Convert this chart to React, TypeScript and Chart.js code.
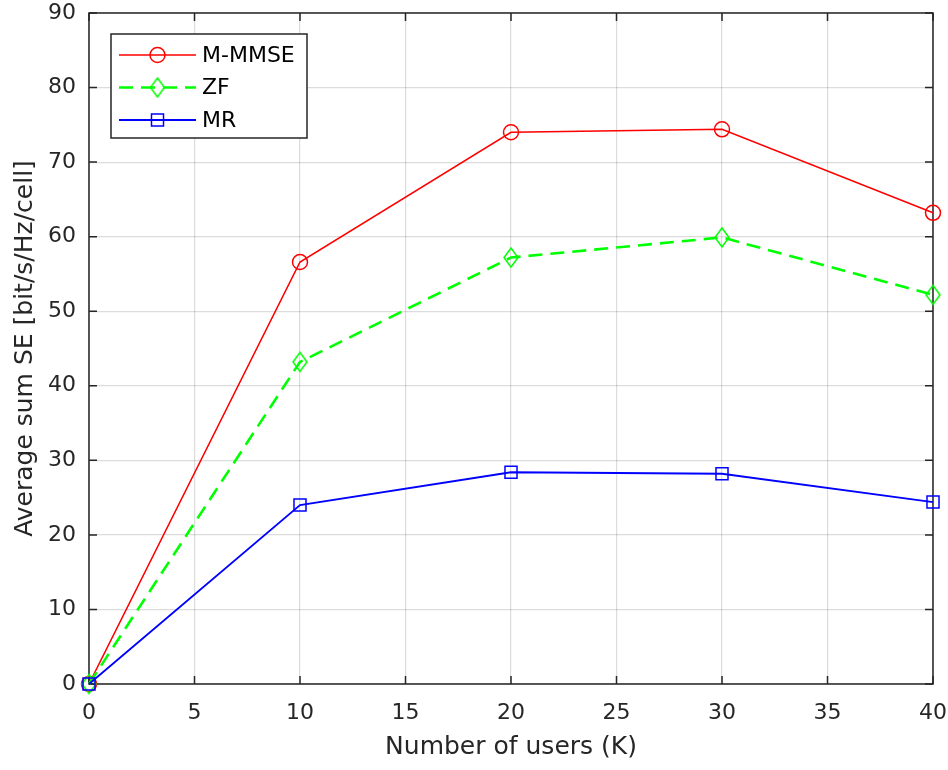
import React, { useEffect, useRef } from 'react';
import { Chart, registerables } from 'chart.js';

Chart.register(...registerables);

// Number of users K
const users = [0, 10, 20, 30, 40];
// Average sum SE [bit/s/Hz/cell] per combiner
const mmmseSE = [0, 56.6, 74.0, 74.4, 63.2];
const zfSE = [0, 43.2, 57.2, 59.9, 52.2];
const mrSE = [0, 24.0, 28.4, 28.2, 24.4];

const seriesNames = ['M-MMSE', 'ZF', 'MR'];
const xTitle = 'Number of users (K)';
const yTitle = 'Average sum SE [bit/s/Hz/cell]';

const AXIS_COLOR = '#262626';
const GRID_COLOR = 'rgba(38,38,38,0.16)';
const FONT = 'DejaVu Sans';
const ZF_DASH = [14, 8];

function makeDiamond(w: number, h: number, color: string, lw: number): HTMLCanvasElement {
  const c = document.createElement('canvas');
  c.width = w + 4;
  c.height = h + 4;
  const ctx = c.getContext('2d')!;
  const cx = c.width / 2;
  const cy = c.height / 2;
  ctx.strokeStyle = color;
  ctx.lineWidth = lw;
  ctx.beginPath();
  ctx.moveTo(cx, cy - h / 2);
  ctx.lineTo(cx + w / 2, cy);
  ctx.lineTo(cx, cy + h / 2);
  ctx.lineTo(cx - w / 2, cy);
  ctx.closePath();
  ctx.stroke();
  return c;
}

// Axes box with inward tick marks on all four sides
const boxPlugin = {
  id: 'axesBox',
  beforeDatasetsDraw(chart: any) {
    const { ctx, chartArea: a, scales } = chart;
    const len = 8;
    ctx.save();
    ctx.strokeStyle = AXIS_COLOR;
    ctx.lineWidth = 1.5;
    ctx.strokeRect(a.left, a.top, a.right - a.left, a.bottom - a.top);
    ctx.beginPath();
    scales.x.ticks.forEach((t: any) => {
      const px = scales.x.getPixelForValue(t.value);
      ctx.moveTo(px, a.bottom);
      ctx.lineTo(px, a.bottom - len);
      ctx.moveTo(px, a.top);
      ctx.lineTo(px, a.top + len);
    });
    scales.y.ticks.forEach((t: any) => {
      const py = scales.y.getPixelForValue(t.value);
      ctx.moveTo(a.left, py);
      ctx.lineTo(a.left + len, py);
      ctx.moveTo(a.right, py);
      ctx.lineTo(a.right - len, py);
    });
    ctx.stroke();
    ctx.restore();
  },
};

// Legend box in the upper-left corner of the axes
const legendPlugin = {
  id: 'boxLegend',
  afterDraw(chart: any) {
    const { ctx, chartArea: a } = chart;
    const x0 = a.left + 22;
    const y0 = a.top + 21;
    const w = 196;
    const h = 104;
    ctx.save();
    ctx.fillStyle = '#ffffff';
    ctx.fillRect(x0, y0, w, h);
    ctx.strokeStyle = AXIS_COLOR;
    ctx.lineWidth = 1.5;
    ctx.strokeRect(x0, y0, w, h);
    chart.data.datasets.forEach((ds: any, i: number) => {
      const cy = y0 + 21 + i * 32.5;
      const lx0 = x0 + 8;
      const lx1 = x0 + 85;
      const mx = (lx0 + lx1) / 2;
      ctx.strokeStyle = ds.borderColor;
      ctx.lineWidth = ds.borderWidth;
      ctx.setLineDash(ds.borderDash || []);
      ctx.beginPath();
      ctx.moveTo(lx0, cy);
      ctx.lineTo(lx1, cy);
      ctx.stroke();
      ctx.setLineDash([]);
      ctx.lineWidth = ds.pointBorderWidth;
      if (ds.pointStyle === 'circle') {
        ctx.beginPath();
        ctx.arc(mx, cy, ds.pointRadius, 0, Math.PI * 2);
        ctx.stroke();
      } else if (ds.pointStyle === 'rect') {
        const s = Math.SQRT1_2 * ds.pointRadius;
        ctx.strokeRect(mx - s, cy - s, 2 * s, 2 * s);
      } else if (ds.pointStyle instanceof HTMLCanvasElement) {
        const img = ds.pointStyle;
        ctx.drawImage(img, mx - img.width / 2, cy - img.height / 2);
      }
      ctx.fillStyle = '#000000';
      ctx.font = `22px "${FONT}"`;
      ctx.textBaseline = 'middle';
      ctx.textAlign = 'left';
      ctx.fillText(ds.label, x0 + 91, cy + 1);
    });
    ctx.restore();
  },
};

export default function App() {
  const ref = useRef<HTMLCanvasElement | null>(null);

  useEffect(() => {
    if (!ref.current) return;
    const diamond = makeDiamond(14, 19, '#00ff00', 1.5);
    const toPts = (vals: number[]) => users.map((u, i) => ({ x: u, y: vals[i] }));
    const chart = new Chart(ref.current, {
      type: 'line',
      data: {
        datasets: [
          {
            label: seriesNames[0],
            data: toPts(mmmseSE),
            borderColor: '#ff0000',
            borderWidth: 1.6,
            pointStyle: 'circle',
            pointRadius: 7.5,
            pointBorderWidth: 1.5,
            pointBorderColor: '#ff0000',
            pointBackgroundColor: 'rgba(0,0,0,0)',
            tension: 0,
            clip: false,
            order: 3,
          },
          {
            label: seriesNames[1],
            data: toPts(zfSE),
            borderColor: '#00ff00',
            borderWidth: 2.6,
            borderDash: ZF_DASH,
            pointStyle: diamond,
            pointRadius: 9,
            pointBorderWidth: 1.5,
            pointBorderColor: '#00ff00',
            pointBackgroundColor: 'rgba(0,0,0,0)',
            tension: 0,
            clip: false,
            order: 2,
          },
          {
            label: seriesNames[2],
            data: toPts(mrSE),
            borderColor: '#0000ff',
            borderWidth: 1.8,
            pointStyle: 'rect',
            pointRadius: 8.5,
            pointBorderWidth: 1.5,
            pointBorderColor: '#0000ff',
            pointBackgroundColor: 'rgba(0,0,0,0)',
            tension: 0,
            clip: false,
            order: 1,
          },
        ],
      },
      options: {
        responsive: false,
        animation: false,
        events: [],
        layout: { padding: { top: 13, right: 15, left: 0, bottom: 0 } },
        plugins: {
          legend: { display: false },
          tooltip: { enabled: false },
        },
        scales: {
          x: {
            type: 'linear',
            min: 0,
            max: 40,
            ticks: {
              stepSize: 5,
              color: AXIS_COLOR,
              font: { family: FONT, size: 22 },
              padding: 16,
              maxRotation: 0,
            },
            grid: { color: GRID_COLOR, lineWidth: 1.2, drawTicks: false },
            border: { display: false },
            title: {
              display: true,
              text: xTitle,
              color: AXIS_COLOR,
              font: { family: FONT, size: 25 },
              padding: { top: 0, bottom: 8 },
            },
            afterFit(scale: any) {
              scale.height = 86;
              scale.paddingLeft = 0;
              scale.paddingRight = 0;
            },
          },
          y: {
            type: 'linear',
            min: 0,
            max: 90,
            ticks: {
              stepSize: 10,
              color: AXIS_COLOR,
              font: { family: FONT, size: 22 },
              padding: 13,
            },
            grid: { color: GRID_COLOR, lineWidth: 1.2, drawTicks: false },
            border: { display: false },
            title: {
              display: true,
              text: yTitle,
              color: AXIS_COLOR,
              font: { family: FONT, size: 25 },
              padding: { top: 10, bottom: 0 },
            },
            afterFit(scale: any) {
              scale.width = 89;
              scale.paddingTop = 0;
              scale.paddingBottom = 0;
            },
          },
        },
      },
      plugins: [boxPlugin, legendPlugin],
    });
    return () => chart.destroy();
  }, []);

  return (
    <div style={{ position: 'fixed', left: 0, top: 0, width: 948, height: 770, background: '#ffffff' }}>
      <canvas ref={ref} width={948} height={770} style={{ display: 'block' }} />
    </div>
  );
}
